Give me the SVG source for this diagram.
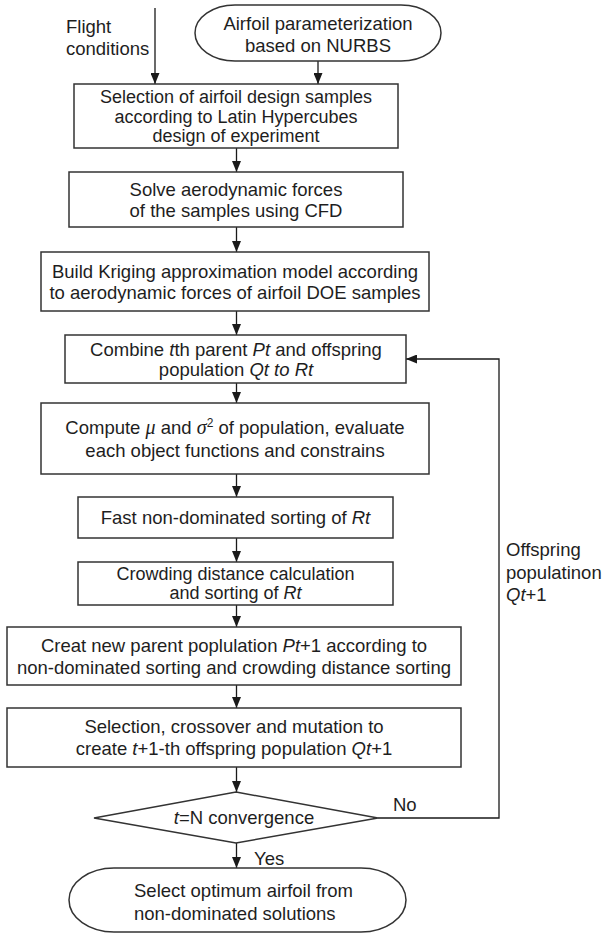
<svg xmlns="http://www.w3.org/2000/svg" width="605" height="934" viewBox="0 0 605 934">
<defs>
<marker id="ah" markerUnits="userSpaceOnUse" markerWidth="11" markerHeight="9" refX="11" refY="4.5" orient="auto">
<path d="M0,0 L11,4.5 L0,9 z" fill="#1a1a1a"/>
</marker>
</defs>
<style>
.bx{fill:#fff;stroke:#333;stroke-width:1.5}
.ln{fill:none;stroke:#1a1a1a;stroke-width:1.3;marker-end:url(#ah)}
text{font-family:"Liberation Sans",Arial,sans-serif;font-size:18.5px;fill:#1e1e1e}
.c{text-anchor:middle}
.s{font-size:18px}
.i{font-style:italic}
.g{font-family:"Liberation Serif","Times New Roman",serif;font-style:italic;font-size:20px}
</style>
<rect width="605" height="934" fill="#fff"/>
<g id="connectors">
<line class="ln" x1="155" y1="8" x2="155" y2="84"/>
<line class="ln" x1="318" y1="61" x2="318" y2="84"/>
<line class="ln" x1="236.5" y1="148" x2="236.5" y2="172"/>
<line class="ln" x1="236.5" y1="227" x2="236.5" y2="252"/>
<line class="ln" x1="236.5" y1="311" x2="236.5" y2="335"/>
<line class="ln" x1="236.5" y1="383" x2="236.5" y2="403"/>
<line class="ln" x1="236.5" y1="474" x2="236.5" y2="497"/>
<line class="ln" x1="236.5" y1="538" x2="236.5" y2="562"/>
<line class="ln" x1="236.5" y1="605" x2="236.5" y2="627"/>
<line class="ln" x1="236.5" y1="685" x2="236.5" y2="708"/>
<line class="ln" x1="236.5" y1="767" x2="236.5" y2="792"/>
<line class="ln" x1="236.5" y1="843" x2="236.5" y2="868"/>
<polyline class="ln" points="378,818 499,818 499,359 406,359"/>
<text x="393" y="811">No</text>
<text x="254" y="865">Yes</text>
<text x="506" y="556">Offspring</text>
<text x="506" y="579">populatinon</text>
<text x="506" y="601"><tspan class="i">Qt</tspan>+1</text>
</g>
<g id="flight">
<text x="66" y="33">Flight</text>
<text x="66" y="55">conditions</text>
</g>
<g id="start">
<rect class="bx" x="195" y="5" width="246" height="56" rx="40" ry="28"/>
<text class="c" x="318" y="30">Airfoil parameterization</text>
<text class="c" x="318" y="52">based on NURBS</text>
</g>
<g id="n1">
<rect class="bx" x="74" y="84" width="324" height="64"/>
<text class="c s" x="236" y="103">Selection of airfoil design samples</text>
<text class="c s" x="236" y="122.5">according to Latin Hypercubes</text>
<text class="c s" x="236" y="142">design of experiment</text>
</g>
<g id="n2">
<rect class="bx" x="69" y="172" width="334" height="55"/>
<text class="c" x="236" y="196">Solve aerodynamic forces</text>
<text class="c" x="236" y="217">of the samples using CFD</text>
</g>
<g id="n3">
<rect class="bx" x="41" y="252" width="388" height="59"/>
<text class="c" x="235" y="277.5">Build Kriging approximation model according</text>
<text class="c" x="235" y="298.5">to aerodynamic forces of airfoil DOE samples</text>
</g>
<g id="n4">
<rect class="bx" x="65" y="335" width="341" height="48"/>
<text class="c" x="236" y="355.5">Combine <tspan class="i">t</tspan>th parent <tspan class="i">Pt</tspan> and offspring</text>
<text class="c" x="236" y="375.5">population <tspan class="i">Qt to Rt</tspan></text>
</g>
<g id="n5">
<rect class="bx" x="41" y="403" width="388" height="71"/>
<text class="c" x="235" y="434">Compute <tspan class="g">μ</tspan> and <tspan class="g">σ</tspan><tspan font-size="12" dy="-7">2</tspan><tspan dy="7"> of population, evaluate</tspan></text>
<text class="c" x="235" y="457">each object functions and constrains</text>
</g>
<g id="n6">
<rect class="bx" x="78" y="497" width="315" height="41"/>
<text class="c" x="235.5" y="524">Fast non-dominated sorting of <tspan class="i">Rt</tspan></text>
</g>
<g id="n7">
<rect class="bx" x="78" y="562" width="315" height="43"/>
<text class="c s" x="235.5" y="579.5">Crowding distance calculation</text>
<text class="c s" x="235.5" y="599">and sorting of <tspan class="i">Rt</tspan></text>
</g>
<g id="n8">
<rect class="bx" x="7" y="627" width="454" height="58"/>
<text class="c" x="234" y="651.5">Creat new parent poplulation <tspan class="i">Pt</tspan>+1 according to</text>
<text class="c" x="234" y="673.5">non-dominated sorting and crowding distance sorting</text>
</g>
<g id="n9">
<rect class="bx" x="7" y="708" width="454" height="59"/>
<text class="c" x="234" y="733">Selection, crossover and mutation to</text>
<text class="c" x="234" y="755">create <tspan class="i">t</tspan>+1-th offspring population <tspan class="i">Qt</tspan>+1</text>
</g>
<g id="decision">
<polygon class="bx" points="236,792 378,818 236,843 94,818"/>
<text class="c" x="244" y="824"><tspan class="i">t</tspan>=N convergence</text>
</g>
<g id="end">
<rect class="bx" x="69" y="868" width="337" height="64" rx="45" ry="32"/>
<text x="134" y="897">Select optimum airfoil from</text>
<text x="134" y="920">non-dominated solutions</text>
</g>
</svg>
